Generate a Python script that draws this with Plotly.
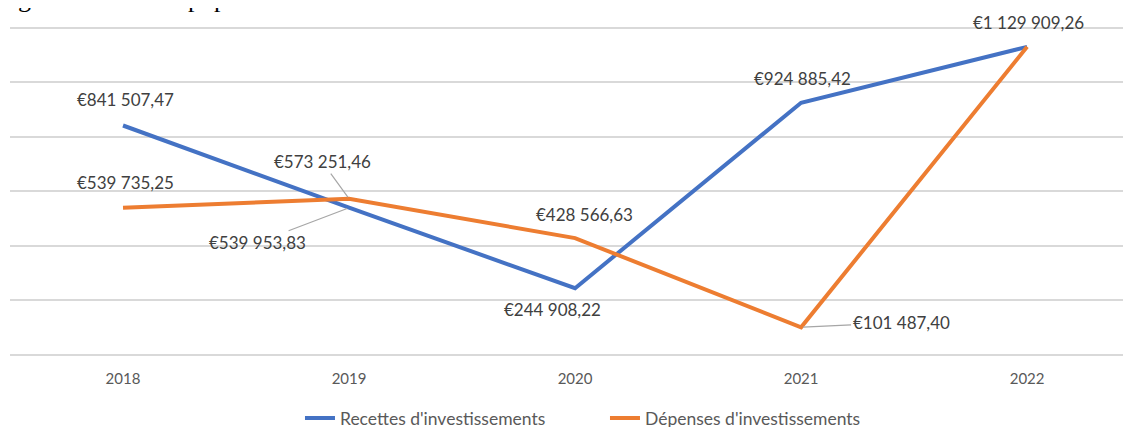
import plotly.graph_objects as go

years = ["2018", "2019", "2020", "2021", "2022"]
recettes = [841507.47, 539953.83, 244908.22, 924885.42, 1129909.26]
depenses = [539735.25, 573251.46, 428566.63, 101487.40, 1129909.26]
series_names = ["Recettes d'investissements", "Dépenses d'investissements"]
colors = ["#4472C4", "#ED7D31"]

def fmt(v):
    s = f"{v:,.2f}"
    ent, dec = s.split(".")
    return "€" + ent.replace(",", " ") + "," + dec

FONT = "Lato"
LABEL_COLOR = "#404040"
LABEL_SIZE = 17

fig = go.Figure()
for name, vals, c in zip(series_names, [recettes, depenses], colors):
    fig.add_trace(go.Scatter(x=years, y=vals, mode="lines", name=name,
                             line=dict(color=c, width=4), hoverinfo="skip"))

# label placement: (series index, point index) -> offsets in pixels
plain = {
    (0, 0): (2, 26), (1, 0): (2, 25),
    (1, 2): (9, 24), (0, 2): (-23, -21),
    (0, 3): (1, 24), (1, 4): (1, 24),
}
leader = {
    (1, 1): (-27, -37),
    (0, 1): (-92, 35),
    (1, 3): (100, -5),
}
anns = []
for si, vals in enumerate([recettes, depenses]):
    for pi, v in enumerate(vals):
        key = (si, pi)
        if key in plain:
            dx, dy = plain[key]
            anns.append(dict(x=pi, y=v, xref="x", yref="y", text=fmt(v),
                             showarrow=False, xshift=dx, yshift=dy,
                             font=dict(family=FONT, size=LABEL_SIZE, color=LABEL_COLOR)))
        elif key in leader:
            ax, ay = leader[key]
            anns.append(dict(x=pi, y=v, xref="x", yref="y", text=fmt(v),
                             showarrow=True, arrowhead=0, arrowwidth=1.2,
                             arrowcolor="#A6A6A6", ax=ax, ay=ay, standoff=2,
                             font=dict(family=FONT, size=LABEL_SIZE, color=LABEL_COLOR)))

# cropped document text at the very top
anns.append(dict(x=0, y=1, xref="paper", yref="paper", xanchor="left", yanchor="bottom",
                 xshift=6, yshift=10, text="g", showarrow=False,
                 font=dict(family="Liberation Serif", size=26, color="#000000")))
anns.append(dict(x=0, y=1, xref="paper", yref="paper", xanchor="left", yanchor="bottom",
                 xshift=176, yshift=10, text="pop", showarrow=False,
                 font=dict(family="Liberation Serif", size=26, color="#000000")))

fig.update_layout(
    width=1131, height=427,
    margin=dict(l=2, r=0, t=17, b=80, autoexpand=False),
    paper_bgcolor="white", plot_bgcolor="white",
    font=dict(family=FONT, size=15, color="#595959"),
    showlegend=True,
    legend=dict(orientation="h", x=0.527, xanchor="center", y=-0.137, yanchor="top",
                font=dict(family=FONT, size=17.5, color="#595959"),
                itemwidth=30, tracegroupgap=0, entrywidth=260),
    annotations=anns,
    xaxis=dict(type="category", range=[-0.5, 4.495], showgrid=False, showline=False,
               zeroline=False, ticks="outside", ticklen=10, tickcolor="rgba(0,0,0,0)",
               tickfont=dict(family=FONT, size=15, color="#595959")),
    yaxis=dict(range=[0, 1210000], dtick=200000, showticklabels=False,
               showgrid=True, gridcolor="#D9D9D9", gridwidth=1.5,
               zeroline=True, zerolinecolor="#D9D9D9", zerolinewidth=1.5,
               showline=False, ticks=""),
)

fig.write_html("out.html")
